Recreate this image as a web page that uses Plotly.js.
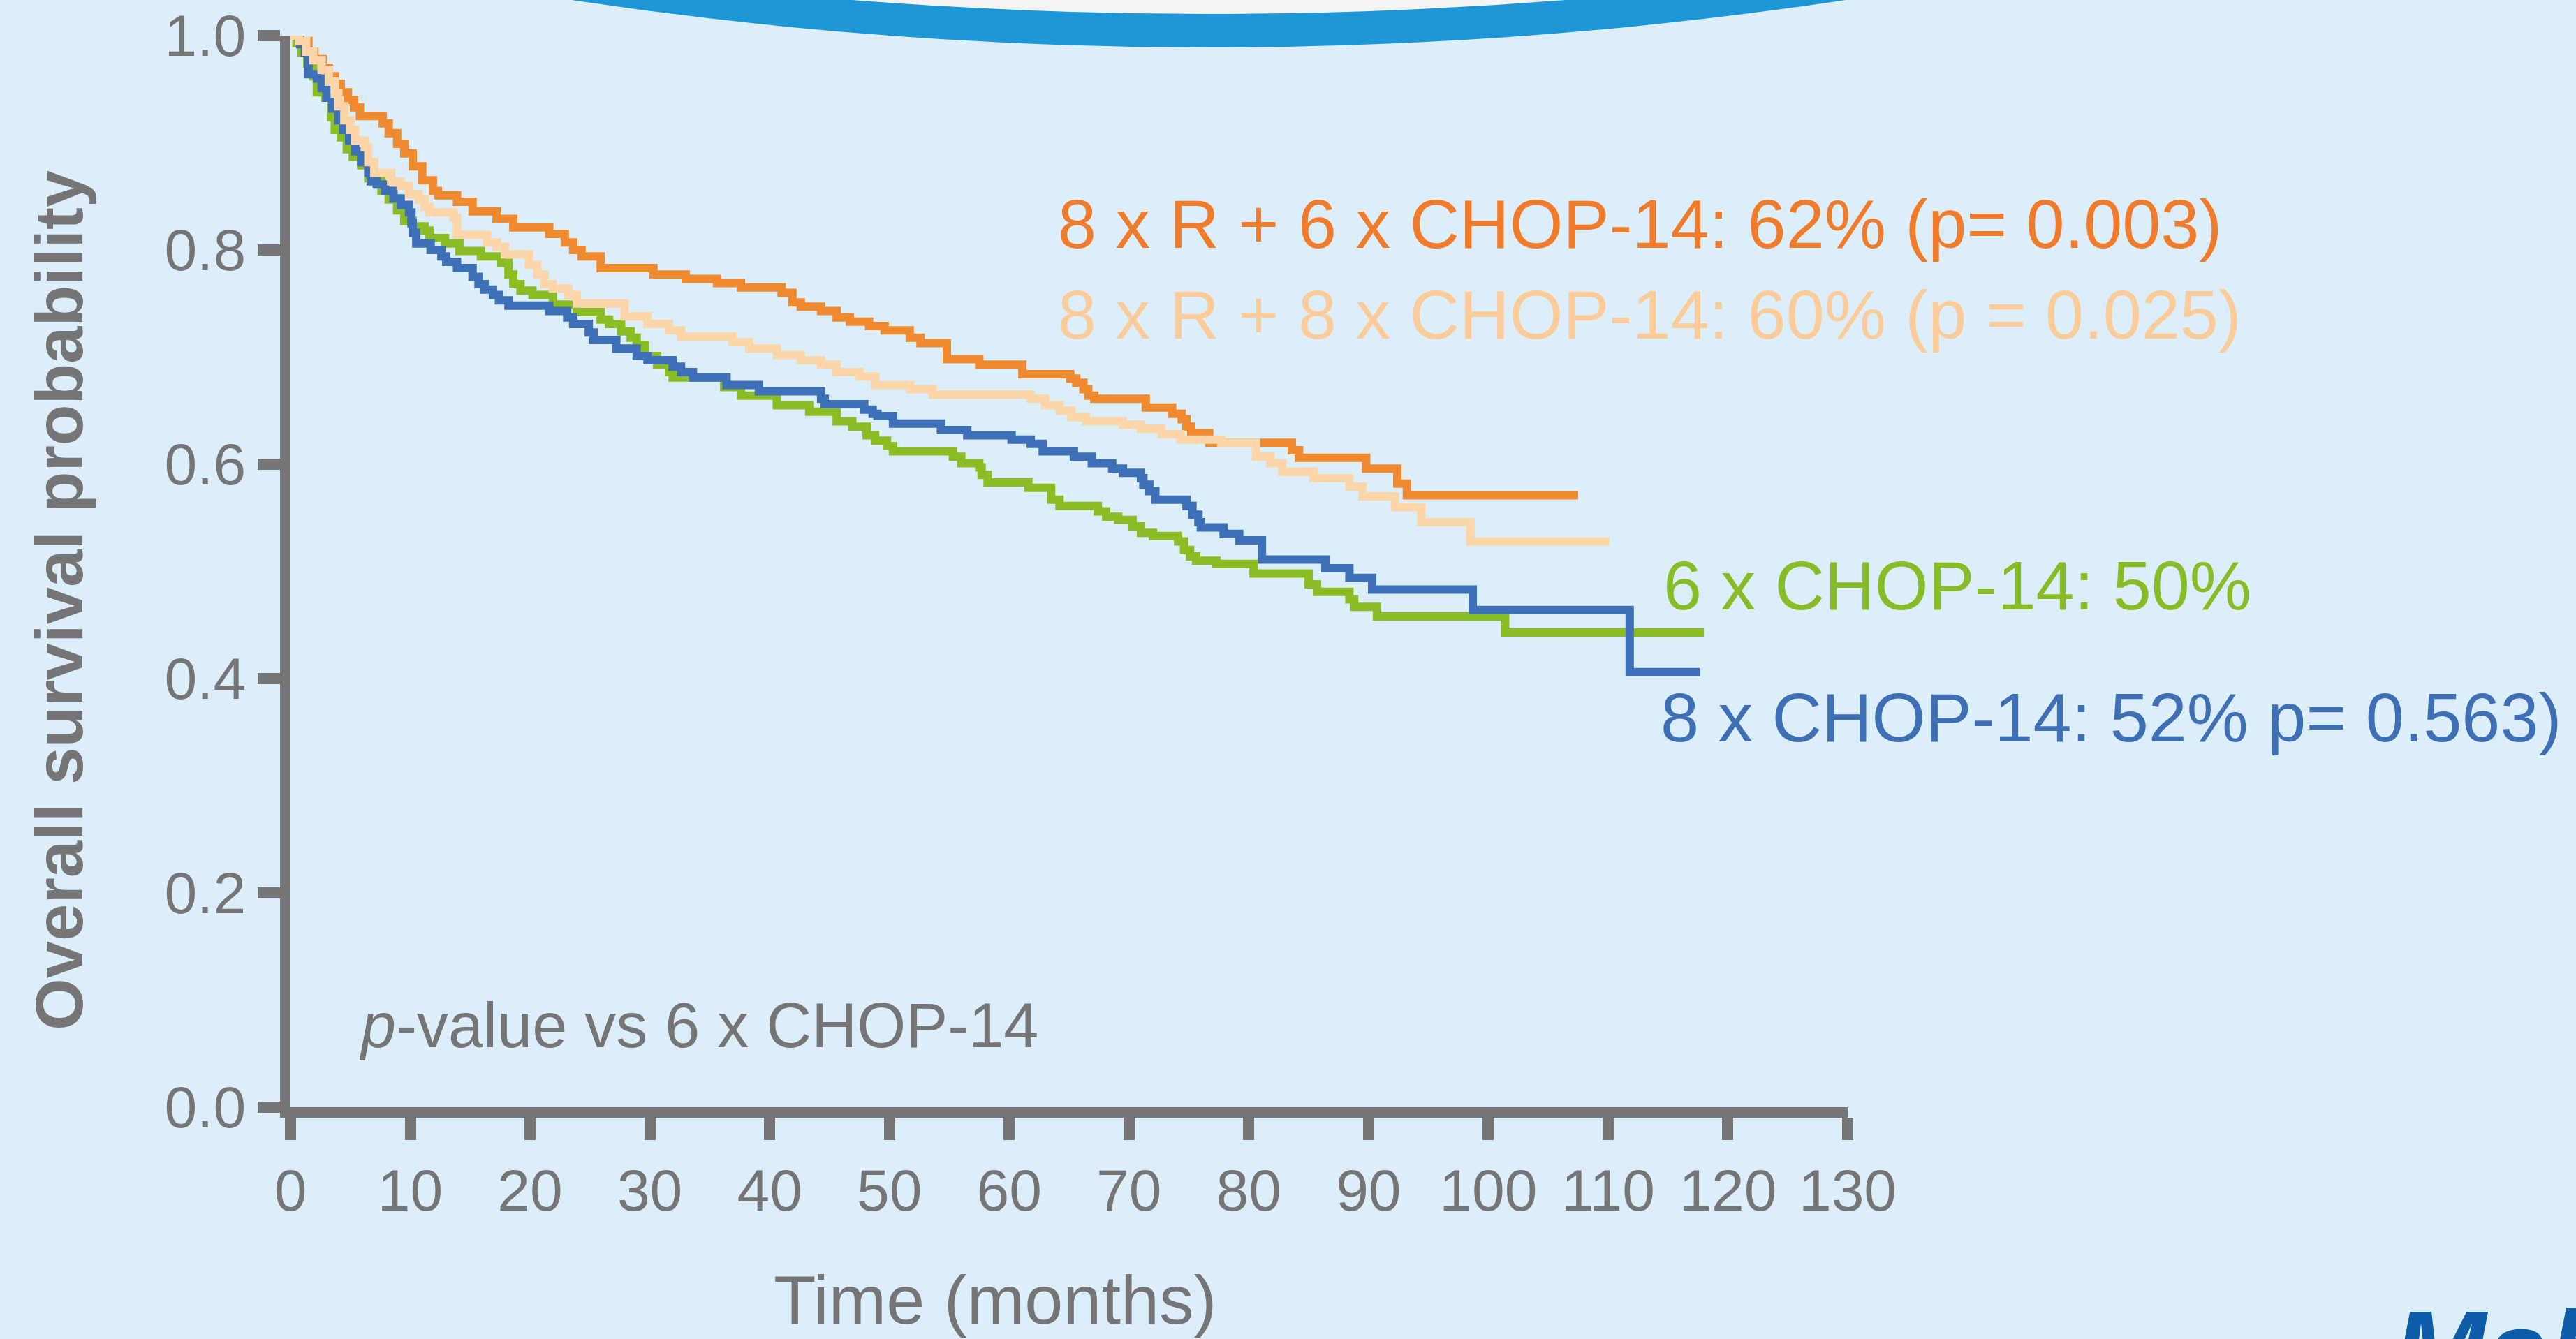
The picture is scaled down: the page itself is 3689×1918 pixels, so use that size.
<!DOCTYPE html>
<html>
<head>
<meta charset="utf-8">
<script src="https://cdn.plot.ly/plotly-3.0.1.min.js"></script>
<style>
  html, body { margin: 0; padding: 0; background: #DCEEF9; }
  #chart { width: 3689px; height: 1918px; }
</style>
</head>
<body>
<div id="chart"></div>
<script>
// ---------------- data ----------------
// 8 x R + 6 x CHOP-14
const r6Time = [0,0.8,1.5,2.0,2.7,3.2,3.7,4.2,4.8,5.3,5.8,7.7,8.2,8.9,9.5,10.2,11.0,11.9,12.3,13.9,15.2,17.2,18.6,21.6,22.9,23.6,24.3,25.9,30.3,33.0,35.6,37.6,41.0,41.9,42.6,44.3,45.6,46.7,48.3,49.6,51.7,52.6,54.8,57.5,61.1,65.1,65.6,66.2,66.6,67.1,71.4,73.6,74.4,74.8,75.2,76.7,83.6,84.2,89.8,92.4,93.2,107.5];
const r6Surv = [1.0,0.995,0.985,0.978,0.970,0.962,0.955,0.947,0.940,0.933,0.925,0.918,0.909,0.899,0.890,0.878,0.865,0.855,0.851,0.845,0.836,0.829,0.821,0.815,0.807,0.800,0.794,0.783,0.777,0.773,0.769,0.765,0.760,0.751,0.747,0.743,0.737,0.733,0.729,0.725,0.718,0.713,0.698,0.693,0.684,0.680,0.676,0.670,0.664,0.661,0.653,0.647,0.642,0.635,0.629,0.620,0.613,0.606,0.596,0.582,0.571,0.571];

// 8 x R + 8 x CHOP-14
const r8Time = [0,0.7,1.3,1.9,2.6,3.2,3.7,4.0,4.5,5.0,5.4,6.2,6.5,7.0,8.4,9.2,9.9,10.7,11.2,11.6,13.6,13.9,16.4,17.2,17.9,19.9,20.6,21.2,21.9,23.2,23.9,27.9,29.8,31.6,32.6,36.9,38.3,40.6,42.6,44.3,45.6,47.5,48.8,51.7,53.6,61.8,63.0,64.2,65.2,66.4,69.5,71.0,72.7,74.3,77.7,80.6,81.8,82.8,85.4,88.4,89.5,92.2,94.4,98.5,110.1];
const r8Surv = [1.0,0.995,0.985,0.977,0.968,0.957,0.946,0.934,0.921,0.912,0.902,0.896,0.882,0.872,0.864,0.860,0.852,0.847,0.840,0.835,0.830,0.814,0.807,0.803,0.796,0.786,0.777,0.768,0.764,0.758,0.750,0.738,0.731,0.725,0.719,0.714,0.708,0.702,0.697,0.693,0.686,0.682,0.674,0.670,0.665,0.661,0.655,0.650,0.644,0.640,0.637,0.633,0.628,0.623,0.620,0.607,0.601,0.593,0.587,0.579,0.570,0.560,0.546,0.528,0.528];

// 6 x CHOP-14
const c6Time = [0,0.5,0.9,1.4,1.9,2.2,2.9,3.4,3.7,4.2,4.7,5.2,5.9,6.5,7.6,8.2,8.9,9.5,10.2,11.2,11.6,12.9,14.1,15.9,17.6,18.2,18.6,19.2,20.2,21.9,23.9,25.9,26.6,27.6,28.4,28.9,29.6,30.6,31.6,31.9,36.2,37.6,40.6,43.3,45.6,46.9,48.1,48.8,49.8,50.3,55.3,56.0,57.5,57.7,58.2,61.6,63.5,64.2,67.4,68.1,69.1,70.3,71.0,72.0,74.1,74.6,75.1,75.6,77.3,80.4,85.0,85.7,88.4,88.8,90.7,101.4,118.0];
const c6Surv = [1.0,0.993,0.984,0.974,0.962,0.947,0.942,0.924,0.912,0.905,0.894,0.887,0.879,0.867,0.855,0.847,0.837,0.827,0.822,0.818,0.811,0.806,0.799,0.794,0.788,0.777,0.768,0.762,0.758,0.749,0.742,0.735,0.731,0.724,0.718,0.711,0.701,0.693,0.686,0.681,0.672,0.664,0.655,0.649,0.640,0.635,0.627,0.622,0.617,0.612,0.607,0.601,0.597,0.590,0.583,0.578,0.567,0.561,0.556,0.551,0.548,0.542,0.536,0.533,0.528,0.520,0.514,0.510,0.507,0.498,0.488,0.481,0.474,0.467,0.458,0.443,0.443];

// 8 x CHOP-14
const c8Time = [0,0.8,1.2,1.5,2.2,2.6,3.0,3.5,4.0,4.4,4.9,5.4,5.9,6.5,6.7,7.2,7.9,8.6,9.2,9.9,10.1,10.2,10.5,11.7,12.6,13.0,13.9,15.2,15.7,16.2,16.9,17.4,18.2,21.6,23.1,23.6,24.9,25.3,27.2,28.9,29.8,31.9,32.6,33.6,36.4,39.1,44.3,44.6,47.9,48.6,49.0,50.3,54.3,56.5,60.2,61.8,62.8,65.4,66.9,68.6,69.5,71.0,71.2,71.7,72.2,74.8,75.3,75.8,76.0,77.9,79.2,81.1,86.4,88.4,90.3,98.7,111.8,117.7];
const c8Surv = [1.0,0.992,0.984,0.964,0.960,0.951,0.942,0.932,0.921,0.912,0.902,0.892,0.882,0.872,0.864,0.861,0.855,0.848,0.842,0.835,0.825,0.816,0.806,0.800,0.794,0.789,0.783,0.775,0.768,0.763,0.758,0.753,0.748,0.743,0.737,0.731,0.723,0.716,0.708,0.701,0.697,0.691,0.686,0.681,0.674,0.668,0.661,0.656,0.651,0.647,0.645,0.638,0.632,0.627,0.623,0.619,0.612,0.607,0.601,0.596,0.592,0.587,0.581,0.575,0.567,0.561,0.553,0.546,0.541,0.535,0.529,0.511,0.503,0.494,0.483,0.464,0.406,0.406];

const seriesLabels = [
  "8 x R + 6 x CHOP-14: 62% (p= 0.003)",
  "8 x R + 8 x CHOP-14: 60% (p = 0.025)",
  "6 x CHOP-14: 50%",
  "8 x CHOP-14: 52% p= 0.563)"
];
const xTickVals = [0,10,20,30,40,50,60,70,80,90,100,110,120,130];
const yTickVals = [0,0.2,0.4,0.6,0.8,1.0];
const yTickText = ["0.0","0.2","0.4","0.6","0.8","1.0"];
const xTitle = "Time (months)";
const yTitle = "<b>Overall survival probability</b>";
const noteText = "<i>p</i>-value vs 6 x CHOP-14";
const logoText = "<b><i>MabThera</i></b>";

// ---------------- geometry ----------------
const W = 3689, H = 1918;
const M = {l: 416, r: 1043, t: 51, b: 332};
const PW = W - M.l - M.r, PH = H - M.t - M.b;
const pxX = x => (x - M.l) / PW;
const pxY = y => (H - M.b - y) / PH;

const GREY = "#757575";
const FONT = "Liberation Sans, Arial, Helvetica, sans-serif";
const COL = {orange: "#F08A30", peach: "#FCD5A8", green: "#8ABD24", blue: "#3D70B7"};
const TXT = {orange: "#EF7B2B", peach: "#FBCB9A", green: "#86BC25", blue: "#3E6FB5"};

function km(x, y, color, name) {
  return {x: x, y: y, type: "scatter", mode: "lines", name: name,
          line: {shape: "hv", color: color, width: 12}, hoverinfo: "skip", showlegend: false};
}
const traces = [
  km(c6Time, c6Surv, COL.green, seriesLabels[2]),
  km(c8Time, c8Surv, COL.blue, seriesLabels[3]),
  km(r6Time, r6Surv, COL.orange, seriesLabels[0]),
  km(r8Time, r8Surv, COL.peach, seriesLabels[1])
];

function label(text, xpx, baseline, size, color, extra) {
  return Object.assign({
    text: text, xref: "paper", yref: "paper",
    x: pxX(xpx), y: pxY(baseline - 0.3465 * size),
    xanchor: "left", yanchor: "middle", showarrow: false,
    borderpad: 0, borderwidth: 0,
    font: {family: FONT, size: size, color: color}
  }, extra || {});
}

const annotations = [
  label(seriesLabels[0], 1515, 355, 99, TXT.orange),
  label(seriesLabels[1], 1515, 485, 99, TXT.peach),
  label(seriesLabels[2], 2382, 873, 99, TXT.green),
  label(seriesLabels[3], 2378, 1062, 99, TXT.blue),
  label(noteText, 514, 1500, 90, GREY),
  label(xTitle, 1108, 1896, 99, GREY),
  // y-axis title, rotated, placed where the reference has it
  {text: yTitle, xref: "paper", yref: "paper", x: pxX(84), y: pxY(860),
   xanchor: "center", yanchor: "middle", textangle: -90, showarrow: false,
   borderpad: 0, borderwidth: 0,
   font: {family: FONT, size: 96, color: GREY}},
  {text: logoText, xref: "paper", yref: "paper", x: pxX(3425), y: pxY(1842),
   xanchor: "left", yanchor: "top", showarrow: false,
   font: {family: FONT, size: 160, color: "#0D5CA8"}}
];

// top decorative arc (two large circles)
const outer = {cx: 1731, r: 6150, bottom: 68};
const inner = {cx: 1731, r: 6538, bottom: 20};
function circ(c, color) {
  const cy = c.bottom - c.r;
  return {type: "circle", xref: "paper", yref: "paper", layer: "below",
          x0: pxX(c.cx - c.r), x1: pxX(c.cx + c.r),
          y0: pxY(c.bottom), y1: pxY(cy - c.r),
          fillcolor: color, line: {width: 0}};
}

const axisCommon = {
  showline: true, linewidth: 15, linecolor: GREY,
  ticks: "outside", ticklen: 32, tickwidth: 16, tickcolor: GREY,
  showgrid: false, zeroline: false, fixedrange: true,
  tickfont: {family: FONT, size: 84, color: GREY}
};

const layout = {
  width: W, height: H,
  paper_bgcolor: "#DCEEF9", plot_bgcolor: "rgba(0,0,0,0)",
  margin: {l: M.l, r: M.r, t: M.t, b: M.b, pad: 0},
  showlegend: false,
  xaxis: Object.assign({}, axisCommon, {
    range: [0, 130], tickmode: "array", tickvals: xTickVals,
    ticktext: xTickVals.map(String)
  }),
  yaxis: Object.assign({}, axisCommon, {
    range: [0, 1], tickmode: "array", tickvals: yTickVals, ticktext: yTickText
  }),
  shapes: [circ(outer, "#1C96D5"), circ(inner, "#F4F4F4")],
  annotations: annotations
};

Plotly.newPlot("chart", traces, layout, {staticPlot: true, displayModeBar: false});
</script>
</body>
</html>
